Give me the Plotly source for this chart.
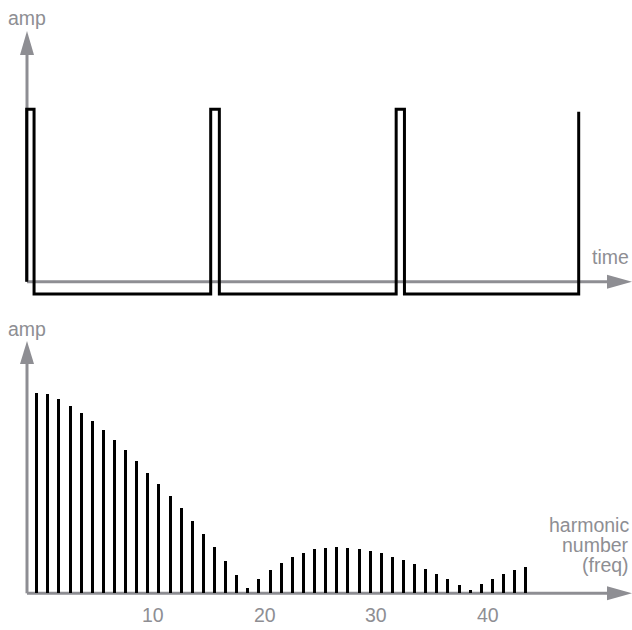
import plotly.graph_objects as go

W, H = 632, 630
GREY = "#8e8e93"
FONT = "Liberation Sans"

# top panel: pulse wave (time in periods, amp relative to pulse height)
pulse_t = [0.0, 0.0, 0.040, 1.0, 1.047, 2.008, 2.053, 3.0]
pulse_amp = [0.0, 1.0, -0.071, 1.0, -0.071, 1.0, -0.071, 0.986]

# bottom panel: harmonic spectrum
harmonics = list(range(1, 46))
harm_amp = [1.000, 0.995, 0.967, 0.933, 0.898, 0.858, 0.812, 0.762, 0.712, 0.658,
            0.601, 0.543, 0.485, 0.425, 0.362, 0.297, 0.231, 0.161, 0.093, 0.026,
            0.070, 0.115, 0.151, 0.181, 0.203, 0.219, 0.228, 0.231, 0.228, 0.223,
            0.213, 0.199, 0.183, 0.164, 0.144, 0.121, 0.098, 0.073, 0.043, 0.018,
            0.045, 0.073, 0.098, 0.118, 0.131]
tick_labels = ["10", "20", "30", "40"]
tick_pos = [11.5, 21.5, 31.5, 41.6]


def px(x):
    return x / W


def py(y):
    return 1 - y / H


fig = go.Figure()
fig.add_trace(go.Scatter(x=pulse_t, y=pulse_amp, mode="lines", line_shape="hv",
                         line=dict(color="black", width=3), xaxis="x", yaxis="y",
                         showlegend=False, hoverinfo="skip"))
fig.add_trace(go.Bar(x=harmonics, y=harm_amp, width=0.27, marker_color="black",
                     marker_line_width=0, xaxis="x2", yaxis="y2", showlegend=False))

# axis geometry (pixels)
ax_x = 27
top_base, top_tip, top_ah = 281.7, 31, 55
bot_base, bot_tip, bot_ah = 593.3, 341, 364
right_tip, right_ah = 632, 607
hw = 7

shapes = []
for base, tip, ah in [(top_base, top_tip, top_ah), (bot_base, bot_tip, bot_ah)]:
    shapes.append(dict(type="line", xref="paper", yref="paper", x0=px(ax_x), x1=px(ax_x),
                       y0=py(base), y1=py(ah), line=dict(color=GREY, width=3), layer="below"))
    shapes.append(dict(type="line", xref="paper", yref="paper", x0=px(ax_x), x1=px(right_ah),
                       y0=py(base), y1=py(base), line=dict(color=GREY, width=3), layer="below"))
    shapes.append(dict(type="path", xref="paper", yref="paper", fillcolor=GREY, line_width=0,
                       path=f"M {px(ax_x)} {py(tip)} L {px(ax_x - hw)} {py(ah)} L {px(ax_x + hw)} {py(ah)} Z"))
    shapes.append(dict(type="path", xref="paper", yref="paper", fillcolor=GREY, line_width=0,
                       path=f"M {px(right_tip)} {py(base)} L {px(right_ah)} {py(base - hw)} L {px(right_ah)} {py(base + hw)} Z"))


def label(text, x, y, xanchor="center", xref="paper"):
    return dict(text=text, x=px(x) if xref == "paper" else x, y=py(y), xref=xref, yref="paper",
                showarrow=False, xanchor=xanchor, yanchor="middle",
                font=dict(family=FONT, size=19.5, color=GREY))


annotations = [
    label("amp", 27, 18),
    label("time", 631, 257, "right"),
    label("amp", 27, 329),
    label("harmonic", 631, 525, "right"),
    label("number", 631, 545, "right"),
    label("(freq)", 631, 565, "right"),
]
for t, v in zip(tick_labels, tick_pos):
    annotations.append(label(t, v, 615, xref="x2"))

# pulse axes: t=0 at px 26.7, 184 px per period; amp 0 at 281.7, 172.4 px per unit
tx0, tpp = 26.7, 184.0
ay0, app = 281.7, 172.4
# spectrum axes: harmonic 0 at 25.6, 11.114 px per harmonic; amp 0 at 593.3, 200.7 px per unit
hx0, hpp = 25.6, 11.114
by0, bpp = 593.3, 200.7

fig.update_layout(
    width=W, height=H, margin=dict(l=0, r=0, t=0, b=0, pad=0),
    paper_bgcolor="white", plot_bgcolor="white",
    xaxis=dict(domain=[0, 1], anchor="y", range=[-tx0 / tpp, (W - tx0) / tpp],
               visible=False, fixedrange=True),
    yaxis=dict(domain=[0.5, 1], anchor="x", range=[-(315 - ay0) / app, ay0 / app],
               visible=False, fixedrange=True),
    xaxis2=dict(domain=[0, 1], anchor="y2", range=[-hx0 / hpp, (W - hx0) / hpp],
                visible=False, fixedrange=True),
    yaxis2=dict(domain=[0, 0.5], anchor="x2", range=[-(630 - by0) / bpp, (by0 - 315) / bpp],
                visible=False, fixedrange=True),
    shapes=shapes, annotations=annotations, bargap=0,
)

fig.write_html("out.html", config={"displayModeBar": False},
               post_script="document.body.style.margin='0';document.body.style.overflow='hidden';")
